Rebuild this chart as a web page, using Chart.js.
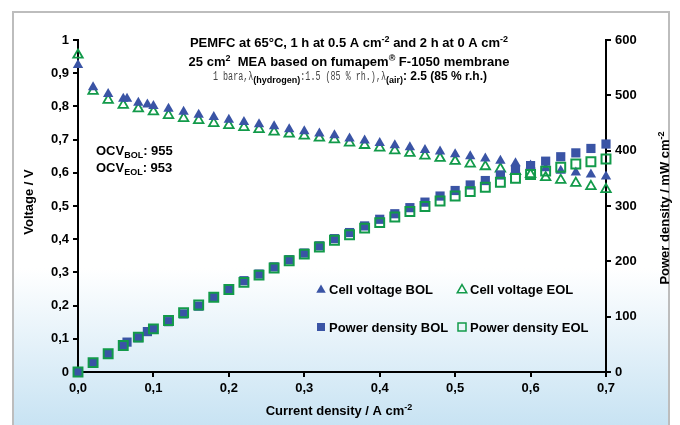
<!DOCTYPE html>
<html>
<head>
<meta charset="utf-8">
<script src="https://cdn.jsdelivr.net/npm/chart.js@4.4.1/dist/chart.umd.min.js"></script>
<style>
  html, body { margin: 0; padding: 0; background: #fff; }
  #wrap { width: 680px; height: 425px; }
</style>
</head>
<body>
<div id="wrap"><canvas id="pemfcChart" width="680" height="425"></canvas></div>
<script>
// current density (A cm-2), cell voltage (V), power density (mW cm-2)
const currentBol = [0, 0.02, 0.04, 0.06, 0.065, 0.08, 0.092, 0.1,
  0.12, 0.14, 0.16, 0.18, 0.2, 0.22, 0.24, 0.26, 0.28, 0.3,
  0.32, 0.34, 0.36, 0.38, 0.4, 0.42, 0.44, 0.46, 0.48, 0.5,
  0.52, 0.54, 0.56, 0.58, 0.6, 0.62, 0.64, 0.66, 0.68, 0.7];
const voltageBol = [0.925, 0.858, 0.837, 0.823, 0.823, 0.811, 0.806, 0.801,
  0.793, 0.784, 0.775, 0.768, 0.760, 0.753, 0.746, 0.740, 0.731, 0.725,
  0.718, 0.713, 0.703, 0.697, 0.690, 0.683, 0.677, 0.669, 0.664, 0.656,
  0.650, 0.643, 0.636, 0.629, 0.622, 0.614, 0.606, 0.601, 0.595, 0.589];
const powerBol = [0, 16, 32, 47, 54, 62, 73, 77,
  91, 105, 119, 135, 150, 165, 177, 190, 203, 215,
  228, 241, 252, 264, 276, 286, 297, 307, 318, 328,
  338, 346, 356, 366, 373, 381, 389, 396, 404, 412];

const currentEol = [0, 0.02, 0.04, 0.06, 0.08, 0.1,
  0.12, 0.14, 0.16, 0.18, 0.2, 0.22, 0.24, 0.26, 0.28, 0.3,
  0.32, 0.34, 0.36, 0.38, 0.4, 0.42, 0.44, 0.46, 0.48, 0.5,
  0.52, 0.54, 0.56, 0.58, 0.6, 0.62, 0.64, 0.66, 0.68, 0.7];
const voltageEol = [0.955, 0.846, 0.819, 0.804, 0.793, 0.784,
  0.773, 0.764, 0.758, 0.749, 0.743, 0.737, 0.731, 0.723, 0.717, 0.711,
  0.705, 0.700, 0.690, 0.683, 0.675, 0.667, 0.659, 0.651, 0.644, 0.635,
  0.627, 0.619, 0.612, 0.604, 0.595, 0.586, 0.578, 0.569, 0.559, 0.550];
const powerEol = [0, 17, 33, 48, 63, 78,
  93, 107, 121, 135, 149, 162, 175, 188, 201, 213,
  226, 238, 248, 260, 270, 280, 290, 299, 309, 318,
  326, 334, 343, 350, 357, 363, 370, 376, 380, 385];

const voltageTicks = [0, 0.1, 0.2, 0.3, 0.4, 0.5, 0.6, 0.7, 0.8, 0.9, 1];
const ocvBol = "955";
const ocvEol = "953";

const BLUE = "#3a54a5";
const GREEN = "#129a4a";
const FONT = "Liberation Sans, Arial, sans-serif";

function points(xs, ys) {
  return xs.map((x, i) => ({ x: x, y: ys[i] }));
}

function fmtComma(v, digits) {
  return v.toFixed(digits).replace(".", ",");
}

// draws text runs (normal / super / subscript) one after another,
// sx squeezes a run horizontally
function drawRich(ctx, parts, x, y, align) {
  let total = 0;
  parts.forEach(p => {
    ctx.font = p.font;
    p.w = ctx.measureText(p.text).width * (p.sx || 1);
    total += p.w;
  });
  let cx = align === "center" ? x - total / 2 : x;
  ctx.textAlign = "left";
  ctx.textBaseline = "alphabetic";
  parts.forEach(p => {
    ctx.font = p.font;
    ctx.fillStyle = p.color || "#000";
    ctx.save();
    ctx.translate(cx, y + (p.dy || 0));
    ctx.scale(p.sx || 1, 1);
    ctx.fillText(p.text, 0, 0);
    ctx.restore();
    cx += p.w;
  });
}

function triangle(ctx, x, y, r) {
  ctx.beginPath();
  ctx.moveTo(x, y - r);
  ctx.lineTo(x + r * 0.866, y + r * 0.5);
  ctx.lineTo(x - r * 0.866, y + r * 0.5);
  ctx.closePath();
}

const B13 = "bold 13px " + FONT;
const B9 = "bold 9px " + FONT;
const MONO = "12px Liberation Mono, Courier New, monospace";

const backgroundPlugin = {
  id: "background",
  beforeDraw(chart) {
    const ctx = chart.ctx;
    ctx.save();
    ctx.fillStyle = "#fff";
    ctx.fillRect(0, 0, chart.width, chart.height);
    const g = ctx.createLinearGradient(0, 12, 0, 425);
    g.addColorStop(0, "#ffffff");
    g.addColorStop(0.62, "#ffffff");
    g.addColorStop(1, "#c8e3f3");
    ctx.fillStyle = g;
    ctx.fillRect(13, 12, 656, 420);
    ctx.strokeStyle = "#bdbdbd";
    ctx.lineWidth = 2;
    ctx.strokeRect(13, 12, 656, 420);
    ctx.restore();
  }
};

const annotationPlugin = {
  id: "annotations",
  afterDraw(chart) {
    const ctx = chart.ctx;
    const area = chart.chartArea;
    ctx.save();

    // title block
    drawRich(ctx, [
      { text: "PEMFC at 65°C, 1 h at 0.5 A cm", font: B13 },
      { text: "-2", font: B9, dy: -5 },
      { text: " and 2 h at 0 A cm", font: B13 },
      { text: "-2", font: B9, dy: -5 }
    ], 349, 47, "center");
    drawRich(ctx, [
      { text: "25 cm", font: B13 },
      { text: "2", font: B9, dy: -5 },
      { text: "  MEA based on fumapem", font: B13 },
      { text: "®", font: B9, dy: -5 },
      { text: " F-1050 membrane", font: B13 }
    ], 349, 66, "center");
    drawRich(ctx, [
      { text: "1 bara,λ", font: MONO, color: "#444", sx: 0.7 },
      { text: "(hydrogen)", font: B9, dy: 3 },
      { text: ":1.5 (85 % rh.),λ", font: MONO, color: "#444", sx: 0.7 },
      { text: "(air)", font: B9, dy: 3 },
      { text: ": 2.5 (85 % r.h.)", font: "bold 12px " + FONT }
    ], 350, 80, "center");

    // open circuit voltages
    drawRich(ctx, [
      { text: "OCV", font: B13 },
      { text: "BOL", font: B9, dy: 3 },
      { text: ": " + ocvBol, font: B13 }
    ], 96, 155, "left");
    drawRich(ctx, [
      { text: "OCV", font: B13 },
      { text: "EOL", font: B9, dy: 3 },
      { text: ": " + ocvEol, font: B13 }
    ], 96, 172, "left");

    // axis titles
    drawRich(ctx, [
      { text: "Current density / A cm", font: B13 },
      { text: "-2", font: B9, dy: -5 }
    ], (area.left + area.right) / 2 - 3, 415, "center");

    ctx.save();
    ctx.translate(33, (area.top + area.bottom) / 2 - 4);
    ctx.rotate(-Math.PI / 2);
    drawRich(ctx, [{ text: "Voltage / V", font: B13 }], 0, 0, "center");
    ctx.restore();

    ctx.save();
    ctx.translate(669, (area.top + area.bottom) / 2 + 2);
    ctx.rotate(-Math.PI / 2);
    drawRich(ctx, [
      { text: "Power density / mW cm", font: B13 },
      { text: "-2", font: B9, dy: -5 }
    ], 0, 0, "center");
    ctx.restore();

    // legend
    const legend = [
      { label: "Cell voltage BOL", x: 321, y: 289, shape: "tri", fill: true },
      { label: "Cell voltage EOL", x: 462, y: 289, shape: "tri", fill: false },
      { label: "Power density BOL", x: 321, y: 327, shape: "sq", fill: true },
      { label: "Power density EOL", x: 462, y: 327, shape: "sq", fill: false }
    ];
    legend.forEach(item => {
      ctx.lineWidth = 1.5;
      if (item.shape === "tri") {
        triangle(ctx, item.x, item.y + 1, 5.5);
      } else {
        ctx.beginPath();
        ctx.rect(item.x - 4, item.y - 4, 8, 8);
      }
      if (item.fill) {
        ctx.fillStyle = BLUE;
        ctx.fill();
      } else {
        ctx.strokeStyle = GREEN;
        ctx.stroke();
      }
      drawRich(ctx, [{ text: item.label, font: B13 }], item.x + 8, item.y + 5, "left");
    });

    ctx.restore();
  }
};

const tickFont = { family: FONT, size: 13, weight: "bold" };
const axisGrid = {
  display: true,
  drawOnChartArea: false,
  drawTicks: true,
  tickLength: 5,
  color: "#000",
  lineWidth: 2
};
const axisBorder = { display: true, color: "#000", width: 2 };

const ctx = document.getElementById("pemfcChart").getContext("2d");
new Chart(ctx, {
  type: "scatter",
  data: {
    datasets: [
      {
        label: "Power density EOL",
        data: points(currentEol, powerEol),
        yAxisID: "y2",
        pointStyle: "rect",
        pointRadius: 6.3,
        borderColor: GREEN,
        backgroundColor: "rgba(0,0,0,0)",
        pointBorderWidth: 2,
        clip: false,
        order: 0
      },
      {
        label: "Power density BOL",
        data: points(currentBol, powerBol),
        yAxisID: "y2",
        pointStyle: "rect",
        pointRadius: 6.5,
        borderColor: BLUE,
        backgroundColor: BLUE,
        pointBorderWidth: 0,
        clip: false,
        order: 1
      },
      {
        label: "Cell voltage BOL",
        data: points(currentBol, voltageBol),
        yAxisID: "y",
        pointStyle: "triangle",
        pointRadius: 6,
        borderColor: BLUE,
        backgroundColor: BLUE,
        pointBorderWidth: 0,
        clip: false,
        order: 2
      },
      {
        label: "Cell voltage EOL",
        data: points(currentEol, voltageEol),
        yAxisID: "y",
        pointStyle: "triangle",
        pointRadius: 5.5,
        borderColor: GREEN,
        backgroundColor: "rgba(0,0,0,0)",
        pointBorderWidth: 1.8,
        clip: false,
        order: 3
      }
    ]
  },
  options: {
    responsive: false,
    animation: false,
    events: [],
    layout: { padding: { top: 40, left: 0, right: 0, bottom: 0 } },
    plugins: {
      legend: { display: false },
      tooltip: { enabled: false },
      title: { display: false }
    },
    scales: {
      x: {
        type: "linear",
        position: "bottom",
        min: 0,
        max: 0.7,
        ticks: {
          stepSize: 0.1,
          color: "#000",
          font: tickFont,
          padding: 4,
          callback: v => fmtComma(v, 1)
        },
        grid: axisGrid,
        border: axisBorder,
        afterFit: s => { s.height = 53; }
      },
      y: {
        position: "left",
        min: 0,
        max: 1,
        afterBuildTicks: s => { s.ticks = voltageTicks.map(v => ({ value: v })); },
        ticks: {
          color: "#000",
          font: tickFont,
          padding: 4,
          callback: v => (v === 0 || v === 1) ? String(v) : fmtComma(v, 1)
        },
        grid: axisGrid,
        border: axisBorder,
        afterFit: s => { s.width = 78; }
      },
      y2: {
        position: "right",
        min: 0,
        max: 600,
        ticks: {
          stepSize: 100,
          color: "#000",
          font: tickFont,
          padding: 4
        },
        grid: axisGrid,
        border: axisBorder,
        afterFit: s => { s.width = 74; }
      }
    }
  },
  plugins: [backgroundPlugin, annotationPlugin]
});
</script>
</body>
</html>
